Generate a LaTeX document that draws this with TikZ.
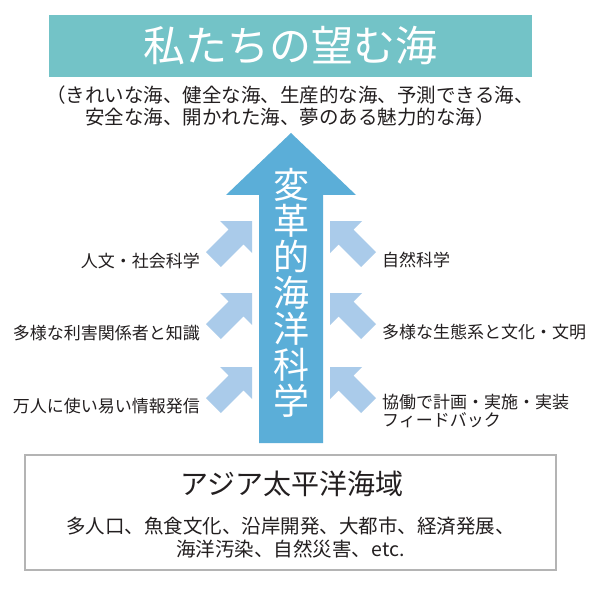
\documentclass[tikz,border=0pt]{standalone}
\usepackage{fontspec}
\setmainfont{Noto Sans CJK JP}
\definecolor{goalteal}{HTML}{73C3C7}
\definecolor{bigblue}{HTML}{5BAED8}
\definecolor{lightblue}{HTML}{AACBEA}
\definecolor{textc}{HTML}{231F20}
\definecolor{boxgray}{HTML}{B4B4B4}
\begin{document}
\begin{tikzpicture}[x=1pt,y=-1pt,
  txt/.style={text=textc, inner sep=0pt},
  sidelabel/.style={txt, font=\fontsize{17}{18}\selectfont},
  inarrow/.pic={\fill[lightblue] (0,0) -- (0,32) -- (-8.6,23.4) -- (-31.2,46) -- (-46,31.2) -- (-23.4,8.6) -- (-32,0) -- cycle;}
]
\useasboundingbox (0,0) rectangle (600,591);
\fill[white] (0,0) rectangle (600,591);

% goal box
\node[fill=goalteal, minimum width=483pt, minimum height=62pt, inner sep=0pt] (goal) at (290.5,46) {};
\node[text=white, inner sep=0pt, font=\fontsize{42}{42}\selectfont] (goaltitle) at (goal.center) {私たちの望む海};
\node[txt, align=center, font=\fontsize{19.5}{22}\selectfont] (sub) at (290,106)
  {（きれいな海、健全な海、生産的な海、予測できる海、\\安全な海、開かれた海、夢のある魅力的な海）};

% big arrow
\coordinate (tip) at (291,133);
\coordinate (tail) at (291,443);
\fill[bigblue] (tip) -- (356,195) -- (323,195) -- (323,443) -- (259,443) -- (259,195) -- (226,195) -- cycle;
\node[text=white, inner sep=0pt, align=center, font=\fontsize{36}{36}\selectfont] (science) at (291,292.5)
  {変\\革\\的\\海\\洋\\科\\学};

% small arrows
\pic at (252,221) {inarrow};
\pic at (252,293) {inarrow};
\pic at (252,367) {inarrow};
\pic[xscale=-1] at (330,221) {inarrow};
\pic[xscale=-1] at (330,293) {inarrow};
\pic[xscale=-1] at (330,367) {inarrow};

% left labels
\node[sidelabel, anchor=east] (l1) at (200,261) {人文・社会科学};
\node[sidelabel, anchor=east] (l2) at (200,333) {多様な利害関係者と知識};
\node[sidelabel, anchor=east] (l3) at (200,406) {万人に使い易い情報発信};

% right labels
\node[sidelabel, anchor=west] (r1) at (382,260) {自然科学};
\node[sidelabel, anchor=west] (r2) at (382,332) {多様な生態系と文化・文明};
\node[sidelabel, anchor=west, align=left] (r3) at (382,411.5) {協働で計画・実施・実装\\フィードバック};

% bottom box
\node[draw=boxgray, line width=1.2pt, minimum width=531pt, minimum height=115pt, inner sep=0pt] (region) at (290.5,512.5) {};
\node[txt, font=\fontsize{28}{28}\selectfont] (regiontitle) at (292,484) {アジア太平洋海域};
\node[txt, align=center, font=\fontsize{19.5}{23}\selectfont] (regiontext) at (290.5,537.5)
  {多人口、魚食文化、沿岸開発、大都市、経済発展、\\海洋汚染、自然災害、etc.};
\end{tikzpicture}
\end{document}
